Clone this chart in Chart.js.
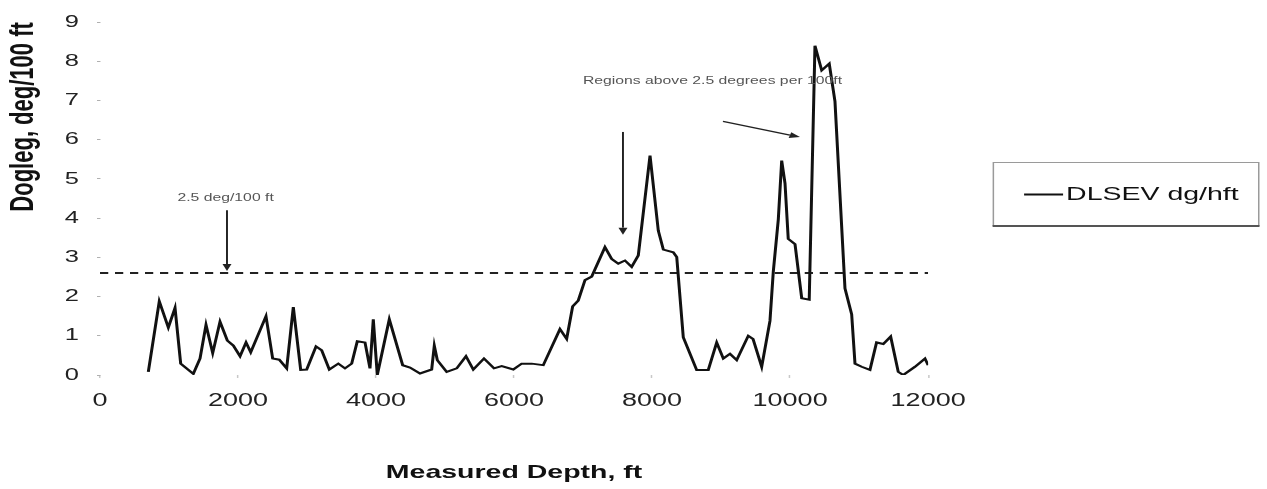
<!DOCTYPE html>
<html>
<head>
<meta charset="utf-8">
<title>Dogleg severity vs measured depth</title>
<script src="https://cdn.jsdelivr.net/npm/chart.js@4/dist/chart.umd.min.js"></script>
<style>
  html, body { margin: 0; padding: 0; background: #fff; }
  canvas { display: block; }
</style>
</head>
<body>
<canvas id="doglegChart" width="845" height="489"></canvas>
<script>
// Survey stations: measured depth (ft) and dogleg severity (deg/100 ft)
const depths = [
  700, 859, 990, 1087, 1169, 1352, 1449, 1536, 1633, 1739,
  1845, 1932, 2029, 2116, 2184, 2405, 2502, 2598, 2705, 2801,
  2908, 2995, 3130, 3212, 3323, 3453, 3550, 3647, 3728, 3840,
  3912, 3960, 4018, 4192, 4386, 4492, 4637, 4806, 4844, 4888,
  5024, 5169, 5303, 5409, 5564, 5709, 5821, 5989, 6110, 6255,
  6423, 6665, 6762, 6849, 6930, 7028, 7125, 7317, 7414, 7510,
  7607, 7704, 7800, 7970, 8090, 8163, 8307, 8357, 8452, 8646,
  8814, 8936, 9032, 9129, 9226, 9394, 9463, 9588, 9708, 9756,
  9829, 9878, 9926, 9973, 10071, 10168, 10277, 10360, 10458, 10567,
  10650, 10795, 10892, 10940, 11037, 11157, 11253, 11350, 11457, 11567,
  11640, 11809, 11954, 12000
];
const dlsev = [
  0.08, 1.88, 1.21, 1.71, 0.29, 0.03, 0.42, 1.28, 0.56, 1.36,
  0.88, 0.75, 0.48, 0.83, 0.58, 1.50, 0.42, 0.39, 0.17, 1.73,
  0.13, 0.14, 0.73, 0.63, 0.14, 0.29, 0.17, 0.29, 0.86, 0.83,
  0.17, 1.42, 0.00, 1.42, 0.25, 0.19, 0.04, 0.14, 0.75, 0.38,
  0.08, 0.17, 0.48, 0.14, 0.42, 0.17, 0.23, 0.14, 0.29, 0.29,
  0.25, 1.17, 0.92, 1.75, 1.90, 2.42, 2.51, 3.26, 2.96, 2.84,
  2.92, 2.76, 3.05, 5.60, 3.68, 3.20, 3.13, 3.01, 0.96, 0.13,
  0.13, 0.83, 0.42, 0.54, 0.38, 1.00, 0.92, 0.21, 1.38, 2.63,
  3.97, 5.47, 4.89, 3.47, 3.34, 1.96, 1.92, 8.40, 7.77, 7.94,
  6.98, 2.21, 1.55, 0.29, 0.21, 0.13, 0.83, 0.79, 0.98, 0.08,
  0.00, 0.21, 0.42, 0.25
];

const thresholdValue = 2.6;
const seriesLabel = 'DLSEV dg/hft';

const depthTicks = [0, 2000, 4000, 6000, 8000, 10000, 12000];
const depthLabels = ['0', '2000', '4000', '6000', '8000', '10000', '12000'];
const doglegTicks = [0, 1, 2, 3, 4, 5, 6, 7, 8, 9];
const doglegLabels = ['0', '1', '2', '3', '4', '5', '6', '7', '8', '9'];

// callouts, in depth / dogleg units
const notes = [
  { text: '2.5 deg/100 ft', x: 1820, y: 4.5 },
  { text: 'Regions above 2.5 degrees per 100ft', x: 8875, y: 7.5 },
];
const arrows = [
  { from: [1840, 4.2], to: [1840, 2.65] },
  { from: [7578, 6.2], to: [7578, 3.58] },
  { from: [9027, 6.47], to: [10143, 6.07] },
];

const FONT = '"Liberation Sans", Arial, Helvetica, sans-serif';
const PAGE_WIDTH = 1267;
const canvas = document.getElementById('doglegChart');
// the chart is laid out narrow and drawn stretched sideways
const STRETCH = PAGE_WIDTH / canvas.width;

const stretchPlugin = {
  id: 'stretch',
  beforeDraw(chart) {
    chart.ctx.setTransform(STRETCH, 0, 0, 1, 0, 0);
  },
};

function drawArrow(ctx, x1, y1, x2, y2) {
  const ang = Math.atan2(y2 - y1, x2 - x1);
  const len = 7;
  const half = 3;
  const bx = x2 - Math.cos(ang) * len;
  const by = y2 - Math.sin(ang) * len;
  ctx.beginPath();
  ctx.moveTo(x1, y1);
  ctx.lineTo(bx, by);
  ctx.stroke();
  ctx.beginPath();
  ctx.moveTo(x2, y2);
  ctx.lineTo(bx - Math.sin(ang) * half, by + Math.cos(ang) * half);
  ctx.lineTo(bx + Math.sin(ang) * half, by - Math.cos(ang) * half);
  ctx.closePath();
  ctx.fill();
}

const calloutPlugin = {
  id: 'callouts',
  afterDatasetsDraw(chart) {
    const { ctx, scales } = chart;
    ctx.save();
    ctx.strokeStyle = '#222';
    ctx.fillStyle = '#222';
    ctx.lineWidth = 1.3;
    arrows.forEach((a) => {
      drawArrow(
        ctx,
        scales.x.getPixelForValue(a.from[0]), scales.y.getPixelForValue(a.from[1]),
        scales.x.getPixelForValue(a.to[0]), scales.y.getPixelForValue(a.to[1])
      );
    });
    ctx.fillStyle = '#555';
    ctx.font = `10.5px ${FONT}`;
    ctx.textAlign = 'center';
    ctx.textBaseline = 'middle';
    notes.forEach((n) => {
      ctx.fillText(n.text, scales.x.getPixelForValue(n.x), scales.y.getPixelForValue(n.y));
    });
    ctx.restore();
  },
};

// boxed legend to the right of the plot
const legendBoxPlugin = {
  id: 'legendBox',
  afterDraw(chart) {
    const { ctx } = chart;
    const left = 662, top = 162, width = 177, height = 63;
    ctx.save();
    ctx.strokeStyle = '#9a9a9a';
    ctx.lineWidth = 1;
    ctx.strokeRect(left + 0.5, top + 0.5, width, height);
    ctx.strokeStyle = '#555';
    ctx.lineWidth = 2;
    ctx.beginPath();
    ctx.moveTo(left, top + height + 1);
    ctx.lineTo(left + width + 1, top + height + 1);
    ctx.stroke();
    const midY = top + height / 2 + 1;
    ctx.strokeStyle = '#111';
    ctx.lineWidth = 2;
    ctx.beginPath();
    ctx.moveTo(683, midY);
    ctx.lineTo(709, midY);
    ctx.stroke();
    ctx.fillStyle = '#111';
    ctx.font = `19px ${FONT}`;
    ctx.textAlign = 'left';
    ctx.textBaseline = 'middle';
    ctx.fillText(seriesLabel, 711, midY);
    ctx.restore();
  },
};

const config = {
  type: 'line',
  data: {
    datasets: [
      {
        label: seriesLabel,
        data: depths.map((d, i) => ({ x: d, y: dlsev[i] })),
        borderColor: '#111',
        borderWidth: 2,
        pointRadius: 0,
        tension: 0,
        fill: false,
      },
      {
        label: '2.5 deg/100 ft',
        data: [{ x: 0, y: thresholdValue }, { x: 12000, y: thresholdValue }],
        borderColor: '#222',
        borderWidth: 2,
        borderDash: [5.5, 4.5],
        pointRadius: 0,
        fill: false,
      },
    ],
  },
  options: {
    responsive: false,
    animation: false,
    devicePixelRatio: 1,
    events: [],
    layout: { padding: { top: 16, right: 226, left: 0, bottom: 0 } },
    plugins: {
      legend: { display: false },
      tooltip: { enabled: false },
    },
    scales: {
      x: {
        type: 'linear',
        min: 0,
        max: 12000,
        afterBuildTicks: (scale) => {
          scale.ticks = depthTicks.map((v) => ({ value: v }));
        },
        afterFit: (scale) => {
          scale.height = 114;
        },
        grid: { drawOnChartArea: false, tickLength: 3, color: '#c8c8c8' },
        border: { display: false },
        ticks: {
          autoSkip: false,
          maxRotation: 0,
          padding: 12,
          color: '#222',
          font: { family: FONT, size: 18 },
          callback: (value, index) => depthLabels[index],
        },
        title: {
          display: true,
          text: 'Measured Depth, ft',
          color: '#111',
          font: { family: FONT, size: 19, weight: 'bold' },
          padding: { top: 0, bottom: 5 },
        },
      },
      y: {
        min: 0,
        max: 9,
        afterBuildTicks: (scale) => {
          scale.ticks = doglegTicks.map((v) => ({ value: v }));
        },
        afterFit: (scale) => {
          scale.width = 66.7;
        },
        grid: { drawOnChartArea: false, tickLength: 2, color: '#b0b0b0' },
        border: { display: false },
        ticks: {
          padding: 12,
          color: '#222',
          font: { family: FONT, size: 17 },
          callback: (value, index) => doglegLabels[index],
        },
        title: {
          display: true,
          text: 'Dogleg, deg/100 ft',
          align: 'end',
          color: '#111',
          font: { family: FONT, size: 22, weight: 'bold' },
          padding: { top: 3, bottom: 0 },
        },
      },
    },
  },
  plugins: [stretchPlugin, calloutPlugin, legendBoxPlugin],
};

const chart = new Chart(canvas, config);

// widen the backing store to the page width and redraw stretched
canvas.width = PAGE_WIDTH;
canvas.style.width = PAGE_WIDTH + 'px';
chart.draw();
</script>
</body>
</html>
